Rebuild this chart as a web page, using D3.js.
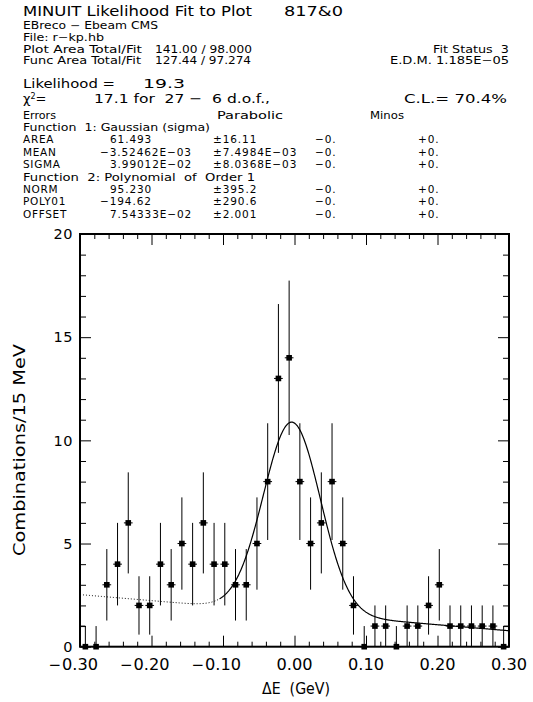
<!DOCTYPE html>
<html>
<head>
<meta charset="utf-8">
<script src="https://cdn.jsdelivr.net/npm/d3@7/dist/d3.min.js"></script>
<style>
  html, body { margin: 0; padding: 0; background: #fff; }
  svg { display: block; }
  text { font-family: "DejaVu Sans", sans-serif; fill: #000; white-space: pre; }
</style>
</head>
<body>
<svg id="chart" width="533" height="702"></svg>
<script>
// ---- histogram: ΔE, 40 bins of 15 MeV from -0.30 to 0.30 GeV ----
const histLow = -0.30;
const histHigh = 0.30;
const binWidth = 0.015;
const counts = [0, 0, 3, 4, 6, 2, 2, 4, 3, 5, 4, 6, 4, 4, 3, 3, 5, 8, 13, 14,
                8, 5, 6, 8, 5, 2, 0, 1, 1, 0, 1, 1, 2, 3, 1, 1, 1, 1, 1, 0];
const fitLow = -0.105;          // fit range lower edge (fit runs to histHigh)

// ---- fit parameters (Gaussian + 1st order polynomial) ----
const paramNames  = ["AREA", "MEAN", "SIGMA", "NORM", "POLY01", "OFFSET"];
const paramValues = [61.493, -3.52462e-03, 3.99012e-02, 95.230, -194.62, 7.54333e-02];
const paramErrors = [16.11, 7.4984e-03, 8.0368e-03, 395.2, 290.6, 2.001];

// ---- axis ticks ----
const xMajorTicks = [-0.30, -0.20, -0.10, 0.00, 0.10, 0.20, 0.30];
const xTickLabels = ["−0.30", "−0.20", "−0.10", "0.00", "0.10", "0.20", "0.30"];
const xMinorTicks = d3.range(-0.30, 0.3001, 0.02);
const yMajorTicks = [0, 5, 10, 15, 20];
const yTickLabels = ["0", "5", "10", "15", "20"];
const yMinorTicks = d3.range(0, 20.001, 1);

const svg = d3.select("#chart");
const M = { left: 80, right: 509, top: 234, bottom: 646.7 };

const x = d3.scaleLinear().domain([histLow, histHigh]).range([M.left, M.right]);
const y = d3.scaleLinear().domain([0, 20]).range([M.bottom, M.top]);

// ---- text helper ----
function label(px, py, str, size, opt = {}) {
  const t = svg.append("text")
    .attr("x", px).attr("y", py)
    .attr("font-size", size)
    .attr("text-anchor", opt.anchor || "start")
    .text(str);
  if (opt.width) t.attr("textLength", opt.width).attr("lengthAdjust", "spacingAndGlyphs");
  if (opt.ls) t.attr("letter-spacing", opt.ls);
  return t;
}
const expFmt = (v, d) => v.toExponential(d)
  .replace(/e([+-])(\d+)/, (m, s, e) => "E" + (s === "-" ? "−" : "+") + e.padStart(2, "0"))
  .replace(/^-/, "−");
const fmtVal = v => Math.abs(v) < 0.1 ? expFmt(v, 5) : v.toPrecision(5).replace(/^-/, "−");
const fmtErr = v => "±" + (v < 0.1 ? expFmt(v, 4) : v.toPrecision(4));

// ---- header block ----
const chi2 = 17.1, nBins = 27, nPar = 6, likelihood = 19.3, cl = 70.4;
const small = 9.9;
label(23, 15.5, "MINUIT Likelihood Fit to Plot", 14, { width: 229 });
label(284, 15.5, "817&0", 14, { width: 59 });
label(23, 29.3, "EBreco − Ebeam CMS", small, { width: 135 });
label(23, 40.9, "File: r−kp.hb", small, { width: 81 });
label(23, 52.5, "Plot Area Total/Fit", small, { width: 119 });
label(155, 52.5, "141.00 / 98.000", small, { width: 97 });
label(23, 64.1, "Func Area Total/Fit", small, { width: 118 });
label(155, 64.1, "127.44 / 97.274", small, { width: 96 });
label(509, 52.5, "Fit Status  3", small, { anchor: "end", width: 76 });
label(509, 64.1, "E.D.M. 1.185E−05", small, { anchor: "end", width: 119 });
label(23, 87.8, "Likelihood =", 13, { width: 92 });
label(143, 87.8, likelihood.toFixed(1), 13, { width: 42 });
const chi = label(23, 103.2, "", 13);
chi.append("tspan").text("χ");
chi.append("tspan").attr("font-size", 8).attr("dy", -4.5).text("2");
chi.append("tspan").attr("dy", 4.5).text("=");
label(94, 103.2, `${chi2.toFixed(1)} for  ${nBins} −  ${nPar} d.o.f.,`, 13, { width: 176 });
label(507, 103.2, `C.L.= ${cl.toFixed(1)}%`, 13, { anchor: "end", width: 103 });

const rowStep = 12.4;
const rowFont = 10.5;
const row0 = 118.5;
label(23, row0, "Errors", rowFont, { width: 33 });
label(217, row0, "Parabolic", rowFont, { width: 66 });
label(370, row0, "Minos", rowFont, { width: 34 });

const funcTitles = [
  { row: 1, text: "Function  1: Gaussian (sigma)", width: 187 },
  { row: 5, text: "Function  2: Polynomial  of  Order 1", width: 232 }
];
funcTitles.forEach(f => label(23, row0 + f.row * rowStep, f.text, rowFont, { width: f.width }));
const paramRows = [2, 3, 4, 6, 7, 8];
paramNames.forEach((name, i) => {
  const py = row0 + paramRows[i] * rowStep;
  label(23, py, name, rowFont, { ls: 0.7 });
  const v = paramValues[i];
  label(v < 0 ? 100 : 110, py, fmtVal(v), rowFont, { ls: 0.9 });
  label(213, py, fmtErr(paramErrors[i]), rowFont, { ls: 0.9 });
  label(315, py, "−0.", rowFont, { ls: 0.9 });
  label(418, py, "+0.", rowFont, { ls: 0.9 });
});

// ---- axes (ticks point into the frame) ----
function tickAxis(axisFn, scale, values, size, transform) {
  const g = svg.append("g").attr("transform", transform)
    .call(axisFn(scale).tickValues(values).tickSize(-size).tickFormat(""));
  g.select(".domain").remove();
  g.selectAll("line").attr("stroke", "#000").attr("stroke-width", 1);
}
const xMinorOnly = xMinorTicks.filter(t => !xMajorTicks.some(m => Math.abs(m - t) < 1e-6));
const yMinorOnly = yMinorTicks.filter(t => Math.round(t) % 5 !== 0);
tickAxis(d3.axisBottom, x, xMinorOnly, 5, `translate(0,${M.bottom})`);
tickAxis(d3.axisBottom, x, xMajorTicks, 11, `translate(0,${M.bottom})`);
tickAxis(d3.axisTop, x, xMinorOnly, 5, `translate(0,${M.top})`);
tickAxis(d3.axisTop, x, xMajorTicks, 11, `translate(0,${M.top})`);
tickAxis(d3.axisLeft, y, yMinorOnly, 6, `translate(${M.left},0)`);
tickAxis(d3.axisLeft, y, yMajorTicks, 11, `translate(${M.left},0)`);
tickAxis(d3.axisRight, y, yMinorOnly, 6, `translate(${M.right},0)`);
tickAxis(d3.axisRight, y, yMajorTicks, 11, `translate(${M.right},0)`);

// tick labels: the digits are centred on the tick, a minus sign hangs to the left
xTickLabels.forEach((s, i) => {
  const neg = s.startsWith("−");
  const digits = neg ? s.slice(1) : s;
  const cx = x(xMajorTicks[i]);
  label(cx, 670, digits, 15, { anchor: "middle", width: 36 });
  if (neg) label(cx - 19, 670, "−", 15, { anchor: "end" });
});
yTickLabels.forEach((s, i) => {
  label(73, y(yMajorTicks[i]) + 5.3, s, 14.5, { anchor: "end", ls: 0.5 });
});

// axis titles
label(296, 694, "ΔE  (GeV)", 15, { anchor: "middle", width: 68 });
svg.append("text")
  .attr("transform", `translate(25,450) rotate(-90)`)
  .attr("text-anchor", "middle")
  .attr("font-size", 15)
  .attr("textLength", 212).attr("lengthAdjust", "spacingAndGlyphs")
  .text("Combinations/15 MeV");

// ---- fit function ----
const [A, mu, sig, norm, p1, off] = paramValues;
const fitFn = v => binWidth * (A / (sig * Math.sqrt(2 * Math.PI)) *
  Math.exp(-0.5 * ((v - mu) / sig) ** 2) + norm + p1 * (v - off));
const line = d3.line().x(d => x(d)).y(d => y(fitFn(d)));
const dottedX = d3.range(histLow, fitLow, 0.001).concat([fitLow]);
const solidX = d3.range(fitLow, histHigh, 0.001).concat([histHigh]);
svg.append("path").attr("d", line(dottedX))
  .attr("fill", "none").attr("stroke", "#000").attr("stroke-width", 1)
  .attr("stroke-dasharray", "1,2");
svg.append("path").attr("d", line(solidX))
  .attr("fill", "none").attr("stroke", "#000").attr("stroke-width", 1.2);

// ---- data points with Poisson errors ----
const bins = counts.map((c, i) => ({
  xc: histLow + (i + 0.5) * binWidth,
  n: c,
  lo: Math.max(0, c - Math.sqrt(c)),
  hi: c > 0 ? c + Math.sqrt(c) : 1
}));
const pts = svg.append("g");
pts.selectAll("line.v").data(bins).join("line")
  .attr("x1", d => x(d.xc)).attr("x2", d => x(d.xc))
  .attr("y1", d => y(d.lo)).attr("y2", d => y(d.hi))
  .attr("stroke", "#000").attr("stroke-width", 1);
pts.selectAll("line.h").data(bins).join("line")
  .attr("x1", d => x(d.xc - binWidth / 2) + 1).attr("x2", d => x(d.xc + binWidth / 2) - 1)
  .attr("y1", d => y(d.n)).attr("y2", d => y(d.n))
  .attr("stroke", "#000").attr("stroke-width", 1);
// outermost bins: the upper error is closed off towards the frame edge
const edgeBins = [bins[0], bins[bins.length - 1]];
pts.selectAll("line.edge").data(edgeBins).join("line")
  .attr("x1", d => x(d.xc)).attr("x2", d => (d.xc < 0 ? M.left : M.right))
  .attr("y1", d => y(d.hi)).attr("y2", d => y(d.hi))
  .attr("stroke", "#000").attr("stroke-width", 1);
pts.selectAll("rect").data(bins).join("rect")
  .attr("x", d => x(d.xc) - 2.8).attr("y", d => y(d.n) - 2.8)
  .attr("width", 5.6).attr("height", 5.6).attr("fill", "#000");

// ---- frame ----
svg.append("rect")
  .attr("x", M.left).attr("y", M.top)
  .attr("width", M.right - M.left).attr("height", M.bottom - M.top)
  .attr("fill", "none").attr("stroke", "#000").attr("stroke-width", 2);
</script>
</body>
</html>
